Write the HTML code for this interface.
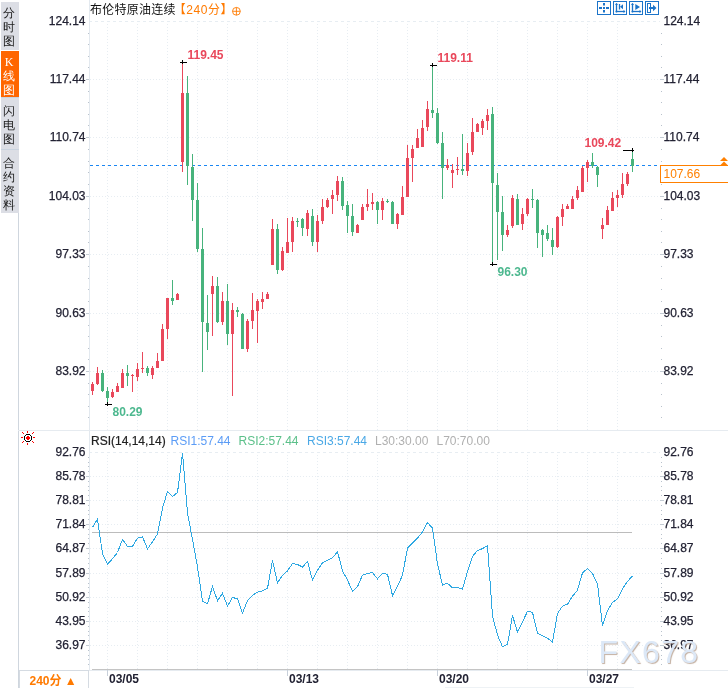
<!DOCTYPE html>
<html><head><meta charset="utf-8"><title>布伦特原油连续 K线图</title>
<style>
html,body{margin:0;padding:0;background:#fff;}
body{width:728px;height:688px;position:relative;overflow:hidden;font-family:"Liberation Sans","Noto Sans CJK SC",sans-serif;}
.tabs{position:absolute;left:1px;top:2px;width:18px;}
.tab{background:#dcdee5;color:#1a1a1a;padding-right:2px;font-size:12px;line-height:14px;text-align:center;font-family:"Liberation Serif","WenQuanYi Zen Hei",serif;box-sizing:border-box;}
.tab.on{background:#ff6600;color:#fff;}
.title{position:absolute;left:90px;top:2px;font-size:12px;line-height:16px;color:#111;white-space:nowrap;letter-spacing:0.25px;font-family:"Liberation Sans","Noto Sans CJK SC",sans-serif;}
.title .o{color:#ff7a00;letter-spacing:0.55px;margin-left:-2px;}
.btm{position:absolute;left:19px;top:670px;width:70px;height:18px;border:1px solid #d5dbe2;border-bottom:none;box-sizing:border-box;color:#ff7a00;font-weight:bold;font-size:12px;line-height:16px;padding-top:2px;padding-left:9.5px;font-family:"Liberation Sans","Noto Sans CJK SC",sans-serif;}
svg{position:absolute;left:0;top:0;}
</style></head><body>
<svg width="728" height="688" viewBox="0 0 728 688">
<g shape-rendering="crispEdges">
<line x1="107.5" y1="21" x2="107.5" y2="430" stroke="#e7edf2" stroke-dasharray="1 2"/>
<line x1="107.5" y1="452" x2="107.5" y2="669" stroke="#e7edf2" stroke-dasharray="1 2"/>
<line x1="137.5" y1="21" x2="137.5" y2="430" stroke="#e7edf2" stroke-dasharray="1 2"/>
<line x1="137.5" y1="452" x2="137.5" y2="669" stroke="#e7edf2" stroke-dasharray="1 2"/>
<line x1="167.5" y1="21" x2="167.5" y2="430" stroke="#e7edf2" stroke-dasharray="1 2"/>
<line x1="167.5" y1="452" x2="167.5" y2="669" stroke="#e7edf2" stroke-dasharray="1 2"/>
<line x1="197.5" y1="21" x2="197.5" y2="430" stroke="#e7edf2" stroke-dasharray="1 2"/>
<line x1="197.5" y1="452" x2="197.5" y2="669" stroke="#e7edf2" stroke-dasharray="1 2"/>
<line x1="227.5" y1="21" x2="227.5" y2="430" stroke="#e7edf2" stroke-dasharray="1 2"/>
<line x1="227.5" y1="452" x2="227.5" y2="669" stroke="#e7edf2" stroke-dasharray="1 2"/>
<line x1="257.5" y1="21" x2="257.5" y2="430" stroke="#e7edf2" stroke-dasharray="1 2"/>
<line x1="257.5" y1="452" x2="257.5" y2="669" stroke="#e7edf2" stroke-dasharray="1 2"/>
<line x1="287.5" y1="21" x2="287.5" y2="430" stroke="#e7edf2" stroke-dasharray="1 2"/>
<line x1="287.5" y1="452" x2="287.5" y2="669" stroke="#e7edf2" stroke-dasharray="1 2"/>
<line x1="317.5" y1="21" x2="317.5" y2="430" stroke="#e7edf2" stroke-dasharray="1 2"/>
<line x1="317.5" y1="452" x2="317.5" y2="669" stroke="#e7edf2" stroke-dasharray="1 2"/>
<line x1="347.5" y1="21" x2="347.5" y2="430" stroke="#e7edf2" stroke-dasharray="1 2"/>
<line x1="347.5" y1="452" x2="347.5" y2="669" stroke="#e7edf2" stroke-dasharray="1 2"/>
<line x1="377.5" y1="21" x2="377.5" y2="430" stroke="#e7edf2" stroke-dasharray="1 2"/>
<line x1="377.5" y1="452" x2="377.5" y2="669" stroke="#e7edf2" stroke-dasharray="1 2"/>
<line x1="407.5" y1="21" x2="407.5" y2="430" stroke="#e7edf2" stroke-dasharray="1 2"/>
<line x1="407.5" y1="452" x2="407.5" y2="669" stroke="#e7edf2" stroke-dasharray="1 2"/>
<line x1="437.5" y1="21" x2="437.5" y2="430" stroke="#e7edf2" stroke-dasharray="1 2"/>
<line x1="437.5" y1="452" x2="437.5" y2="669" stroke="#e7edf2" stroke-dasharray="1 2"/>
<line x1="467.5" y1="21" x2="467.5" y2="430" stroke="#e7edf2" stroke-dasharray="1 2"/>
<line x1="467.5" y1="452" x2="467.5" y2="669" stroke="#e7edf2" stroke-dasharray="1 2"/>
<line x1="497.5" y1="21" x2="497.5" y2="430" stroke="#e7edf2" stroke-dasharray="1 2"/>
<line x1="497.5" y1="452" x2="497.5" y2="669" stroke="#e7edf2" stroke-dasharray="1 2"/>
<line x1="527.5" y1="21" x2="527.5" y2="430" stroke="#e7edf2" stroke-dasharray="1 2"/>
<line x1="527.5" y1="452" x2="527.5" y2="669" stroke="#e7edf2" stroke-dasharray="1 2"/>
<line x1="557.5" y1="21" x2="557.5" y2="430" stroke="#e7edf2" stroke-dasharray="1 2"/>
<line x1="557.5" y1="452" x2="557.5" y2="669" stroke="#e7edf2" stroke-dasharray="1 2"/>
<line x1="587.5" y1="21" x2="587.5" y2="430" stroke="#e7edf2" stroke-dasharray="1 2"/>
<line x1="587.5" y1="452" x2="587.5" y2="669" stroke="#e7edf2" stroke-dasharray="1 2"/>
<line x1="617.5" y1="21" x2="617.5" y2="430" stroke="#e7edf2" stroke-dasharray="1 2"/>
<line x1="617.5" y1="452" x2="617.5" y2="669" stroke="#e7edf2" stroke-dasharray="1 2"/>
<line x1="89" y1="21.5" x2="660" y2="21.5" stroke="#e7edf2" stroke-dasharray="3 3"/>
<line x1="90" y1="79.5" x2="660" y2="79.5" stroke="#e7edf2" stroke-dasharray="1 2"/>
<line x1="90" y1="137.5" x2="660" y2="137.5" stroke="#e7edf2" stroke-dasharray="1 2"/>
<line x1="90" y1="196.5" x2="660" y2="196.5" stroke="#e7edf2" stroke-dasharray="1 2"/>
<line x1="90" y1="254.5" x2="660" y2="254.5" stroke="#e7edf2" stroke-dasharray="1 2"/>
<line x1="90" y1="313.5" x2="660" y2="313.5" stroke="#e7edf2" stroke-dasharray="1 2"/>
<line x1="90" y1="371.5" x2="660" y2="371.5" stroke="#e7edf2" stroke-dasharray="1 2"/>
<line x1="89" y1="452.5" x2="660" y2="452.5" stroke="#e7edf2" stroke-dasharray="3 3"/>
<line x1="90" y1="476.5" x2="660" y2="476.5" stroke="#e7edf2" stroke-dasharray="1 2"/>
<line x1="90" y1="500.5" x2="660" y2="500.5" stroke="#e7edf2" stroke-dasharray="1 2"/>
<line x1="90" y1="524.5" x2="660" y2="524.5" stroke="#e7edf2" stroke-dasharray="1 2"/>
<line x1="90" y1="548.5" x2="660" y2="548.5" stroke="#e7edf2" stroke-dasharray="1 2"/>
<line x1="90" y1="573.5" x2="660" y2="573.5" stroke="#e7edf2" stroke-dasharray="1 2"/>
<line x1="90" y1="597.5" x2="660" y2="597.5" stroke="#e7edf2" stroke-dasharray="1 2"/>
<line x1="90" y1="621.5" x2="660" y2="621.5" stroke="#e7edf2" stroke-dasharray="1 2"/>
<line x1="90" y1="645.5" x2="660" y2="645.5" stroke="#e7edf2" stroke-dasharray="1 2"/>
<line x1="89.5" y1="0" x2="89.5" y2="670" stroke="#e3e9ef"/>
<line x1="18.5" y1="213" x2="18.5" y2="688" stroke="#cfd6de"/>
<line x1="18" y1="430.5" x2="728" y2="430.5" stroke="#e6ebf0"/>
<line x1="89" y1="670.5" x2="728" y2="670.5" stroke="#e6ebf0"/>
<line x1="92" y1="669.5" x2="632" y2="669.5" stroke="#c4c4c4"/>
<line x1="445" y1="687.5" x2="634" y2="687.5" stroke="#eef2f5"/>
<line x1="86" y1="79.5" x2="89" y2="79.5" stroke="#c4ccd4"/>
<line x1="660" y1="79.5" x2="664" y2="79.5" stroke="#c4ccd4"/>
<line x1="86" y1="137.5" x2="89" y2="137.5" stroke="#c4ccd4"/>
<line x1="660" y1="137.5" x2="664" y2="137.5" stroke="#c4ccd4"/>
<line x1="86" y1="196.5" x2="89" y2="196.5" stroke="#c4ccd4"/>
<line x1="660" y1="196.5" x2="664" y2="196.5" stroke="#c4ccd4"/>
<line x1="86" y1="254.5" x2="89" y2="254.5" stroke="#c4ccd4"/>
<line x1="660" y1="254.5" x2="664" y2="254.5" stroke="#c4ccd4"/>
<line x1="86" y1="313.5" x2="89" y2="313.5" stroke="#c4ccd4"/>
<line x1="660" y1="313.5" x2="664" y2="313.5" stroke="#c4ccd4"/>
<line x1="86" y1="371.5" x2="89" y2="371.5" stroke="#c4ccd4"/>
<line x1="660" y1="371.5" x2="664" y2="371.5" stroke="#c4ccd4"/>
<rect x="88" y="33" width="1" height="1" fill="#b9c2cc"/>
<rect x="661" y="33" width="1" height="1" fill="#b9c2cc"/>
<rect x="88" y="44" width="1" height="1" fill="#b9c2cc"/>
<rect x="661" y="44" width="1" height="1" fill="#b9c2cc"/>
<rect x="88" y="56" width="1" height="1" fill="#b9c2cc"/>
<rect x="661" y="56" width="1" height="1" fill="#b9c2cc"/>
<rect x="88" y="67" width="1" height="1" fill="#b9c2cc"/>
<rect x="661" y="67" width="1" height="1" fill="#b9c2cc"/>
<rect x="88" y="91" width="1" height="1" fill="#b9c2cc"/>
<rect x="661" y="91" width="1" height="1" fill="#b9c2cc"/>
<rect x="88" y="102" width="1" height="1" fill="#b9c2cc"/>
<rect x="661" y="102" width="1" height="1" fill="#b9c2cc"/>
<rect x="88" y="114" width="1" height="1" fill="#b9c2cc"/>
<rect x="661" y="114" width="1" height="1" fill="#b9c2cc"/>
<rect x="88" y="125" width="1" height="1" fill="#b9c2cc"/>
<rect x="661" y="125" width="1" height="1" fill="#b9c2cc"/>
<rect x="88" y="149" width="1" height="1" fill="#b9c2cc"/>
<rect x="661" y="149" width="1" height="1" fill="#b9c2cc"/>
<rect x="88" y="161" width="1" height="1" fill="#b9c2cc"/>
<rect x="661" y="161" width="1" height="1" fill="#b9c2cc"/>
<rect x="88" y="172" width="1" height="1" fill="#b9c2cc"/>
<rect x="661" y="172" width="1" height="1" fill="#b9c2cc"/>
<rect x="88" y="184" width="1" height="1" fill="#b9c2cc"/>
<rect x="661" y="184" width="1" height="1" fill="#b9c2cc"/>
<rect x="88" y="208" width="1" height="1" fill="#b9c2cc"/>
<rect x="661" y="208" width="1" height="1" fill="#b9c2cc"/>
<rect x="88" y="219" width="1" height="1" fill="#b9c2cc"/>
<rect x="661" y="219" width="1" height="1" fill="#b9c2cc"/>
<rect x="88" y="231" width="1" height="1" fill="#b9c2cc"/>
<rect x="661" y="231" width="1" height="1" fill="#b9c2cc"/>
<rect x="88" y="242" width="1" height="1" fill="#b9c2cc"/>
<rect x="661" y="242" width="1" height="1" fill="#b9c2cc"/>
<rect x="88" y="266" width="1" height="1" fill="#b9c2cc"/>
<rect x="661" y="266" width="1" height="1" fill="#b9c2cc"/>
<rect x="88" y="278" width="1" height="1" fill="#b9c2cc"/>
<rect x="661" y="278" width="1" height="1" fill="#b9c2cc"/>
<rect x="88" y="289" width="1" height="1" fill="#b9c2cc"/>
<rect x="661" y="289" width="1" height="1" fill="#b9c2cc"/>
<rect x="88" y="301" width="1" height="1" fill="#b9c2cc"/>
<rect x="661" y="301" width="1" height="1" fill="#b9c2cc"/>
<rect x="88" y="325" width="1" height="1" fill="#b9c2cc"/>
<rect x="661" y="325" width="1" height="1" fill="#b9c2cc"/>
<rect x="88" y="336" width="1" height="1" fill="#b9c2cc"/>
<rect x="661" y="336" width="1" height="1" fill="#b9c2cc"/>
<rect x="88" y="348" width="1" height="1" fill="#b9c2cc"/>
<rect x="661" y="348" width="1" height="1" fill="#b9c2cc"/>
<rect x="88" y="359" width="1" height="1" fill="#b9c2cc"/>
<rect x="661" y="359" width="1" height="1" fill="#b9c2cc"/>
<rect x="88" y="383" width="1" height="1" fill="#b9c2cc"/>
<rect x="661" y="383" width="1" height="1" fill="#b9c2cc"/>
<rect x="88" y="394" width="1" height="1" fill="#b9c2cc"/>
<rect x="661" y="394" width="1" height="1" fill="#b9c2cc"/>
<rect x="88" y="406" width="1" height="1" fill="#b9c2cc"/>
<rect x="661" y="406" width="1" height="1" fill="#b9c2cc"/>
<rect x="88" y="417" width="1" height="1" fill="#b9c2cc"/>
<rect x="661" y="417" width="1" height="1" fill="#b9c2cc"/>
<line x1="86" y1="476.5" x2="89" y2="476.5" stroke="#c4ccd4"/>
<line x1="660" y1="476.5" x2="664" y2="476.5" stroke="#c4ccd4"/>
<line x1="86" y1="500.5" x2="89" y2="500.5" stroke="#c4ccd4"/>
<line x1="660" y1="500.5" x2="664" y2="500.5" stroke="#c4ccd4"/>
<line x1="86" y1="524.5" x2="89" y2="524.5" stroke="#c4ccd4"/>
<line x1="660" y1="524.5" x2="664" y2="524.5" stroke="#c4ccd4"/>
<line x1="86" y1="548.5" x2="89" y2="548.5" stroke="#c4ccd4"/>
<line x1="660" y1="548.5" x2="664" y2="548.5" stroke="#c4ccd4"/>
<line x1="86" y1="573.5" x2="89" y2="573.5" stroke="#c4ccd4"/>
<line x1="660" y1="573.5" x2="664" y2="573.5" stroke="#c4ccd4"/>
<line x1="86" y1="597.5" x2="89" y2="597.5" stroke="#c4ccd4"/>
<line x1="660" y1="597.5" x2="664" y2="597.5" stroke="#c4ccd4"/>
<line x1="86" y1="621.5" x2="89" y2="621.5" stroke="#c4ccd4"/>
<line x1="660" y1="621.5" x2="664" y2="621.5" stroke="#c4ccd4"/>
<line x1="86" y1="645.5" x2="89" y2="645.5" stroke="#c4ccd4"/>
<line x1="660" y1="645.5" x2="664" y2="645.5" stroke="#c4ccd4"/>
<rect x="88" y="457" width="1" height="1" fill="#b9c2cc"/>
<rect x="661" y="457" width="1" height="1" fill="#b9c2cc"/>
<rect x="88" y="462" width="1" height="1" fill="#b9c2cc"/>
<rect x="661" y="462" width="1" height="1" fill="#b9c2cc"/>
<rect x="88" y="466" width="1" height="1" fill="#b9c2cc"/>
<rect x="661" y="466" width="1" height="1" fill="#b9c2cc"/>
<rect x="88" y="471" width="1" height="1" fill="#b9c2cc"/>
<rect x="661" y="471" width="1" height="1" fill="#b9c2cc"/>
<rect x="88" y="481" width="1" height="1" fill="#b9c2cc"/>
<rect x="661" y="481" width="1" height="1" fill="#b9c2cc"/>
<rect x="88" y="486" width="1" height="1" fill="#b9c2cc"/>
<rect x="661" y="486" width="1" height="1" fill="#b9c2cc"/>
<rect x="88" y="490" width="1" height="1" fill="#b9c2cc"/>
<rect x="661" y="490" width="1" height="1" fill="#b9c2cc"/>
<rect x="88" y="495" width="1" height="1" fill="#b9c2cc"/>
<rect x="661" y="495" width="1" height="1" fill="#b9c2cc"/>
<rect x="88" y="505" width="1" height="1" fill="#b9c2cc"/>
<rect x="661" y="505" width="1" height="1" fill="#b9c2cc"/>
<rect x="88" y="510" width="1" height="1" fill="#b9c2cc"/>
<rect x="661" y="510" width="1" height="1" fill="#b9c2cc"/>
<rect x="88" y="514" width="1" height="1" fill="#b9c2cc"/>
<rect x="661" y="514" width="1" height="1" fill="#b9c2cc"/>
<rect x="88" y="519" width="1" height="1" fill="#b9c2cc"/>
<rect x="661" y="519" width="1" height="1" fill="#b9c2cc"/>
<rect x="88" y="529" width="1" height="1" fill="#b9c2cc"/>
<rect x="661" y="529" width="1" height="1" fill="#b9c2cc"/>
<rect x="88" y="534" width="1" height="1" fill="#b9c2cc"/>
<rect x="661" y="534" width="1" height="1" fill="#b9c2cc"/>
<rect x="88" y="538" width="1" height="1" fill="#b9c2cc"/>
<rect x="661" y="538" width="1" height="1" fill="#b9c2cc"/>
<rect x="88" y="543" width="1" height="1" fill="#b9c2cc"/>
<rect x="661" y="543" width="1" height="1" fill="#b9c2cc"/>
<rect x="88" y="553" width="1" height="1" fill="#b9c2cc"/>
<rect x="661" y="553" width="1" height="1" fill="#b9c2cc"/>
<rect x="88" y="558" width="1" height="1" fill="#b9c2cc"/>
<rect x="661" y="558" width="1" height="1" fill="#b9c2cc"/>
<rect x="88" y="563" width="1" height="1" fill="#b9c2cc"/>
<rect x="661" y="563" width="1" height="1" fill="#b9c2cc"/>
<rect x="88" y="568" width="1" height="1" fill="#b9c2cc"/>
<rect x="661" y="568" width="1" height="1" fill="#b9c2cc"/>
<rect x="88" y="578" width="1" height="1" fill="#b9c2cc"/>
<rect x="661" y="578" width="1" height="1" fill="#b9c2cc"/>
<rect x="88" y="583" width="1" height="1" fill="#b9c2cc"/>
<rect x="661" y="583" width="1" height="1" fill="#b9c2cc"/>
<rect x="88" y="587" width="1" height="1" fill="#b9c2cc"/>
<rect x="661" y="587" width="1" height="1" fill="#b9c2cc"/>
<rect x="88" y="592" width="1" height="1" fill="#b9c2cc"/>
<rect x="661" y="592" width="1" height="1" fill="#b9c2cc"/>
<rect x="88" y="602" width="1" height="1" fill="#b9c2cc"/>
<rect x="661" y="602" width="1" height="1" fill="#b9c2cc"/>
<rect x="88" y="607" width="1" height="1" fill="#b9c2cc"/>
<rect x="661" y="607" width="1" height="1" fill="#b9c2cc"/>
<rect x="88" y="611" width="1" height="1" fill="#b9c2cc"/>
<rect x="661" y="611" width="1" height="1" fill="#b9c2cc"/>
<rect x="88" y="616" width="1" height="1" fill="#b9c2cc"/>
<rect x="661" y="616" width="1" height="1" fill="#b9c2cc"/>
<rect x="88" y="626" width="1" height="1" fill="#b9c2cc"/>
<rect x="661" y="626" width="1" height="1" fill="#b9c2cc"/>
<rect x="88" y="631" width="1" height="1" fill="#b9c2cc"/>
<rect x="661" y="631" width="1" height="1" fill="#b9c2cc"/>
<rect x="88" y="635" width="1" height="1" fill="#b9c2cc"/>
<rect x="661" y="635" width="1" height="1" fill="#b9c2cc"/>
<rect x="88" y="640" width="1" height="1" fill="#b9c2cc"/>
<rect x="661" y="640" width="1" height="1" fill="#b9c2cc"/>
<rect x="88" y="650" width="1" height="1" fill="#b9c2cc"/>
<rect x="661" y="650" width="1" height="1" fill="#b9c2cc"/>
<rect x="88" y="655" width="1" height="1" fill="#b9c2cc"/>
<rect x="661" y="655" width="1" height="1" fill="#b9c2cc"/>
<rect x="88" y="659" width="1" height="1" fill="#b9c2cc"/>
<rect x="661" y="659" width="1" height="1" fill="#b9c2cc"/>
<rect x="88" y="664" width="1" height="1" fill="#b9c2cc"/>
<rect x="661" y="664" width="1" height="1" fill="#b9c2cc"/>
</g>
<line x1="90" y1="165.5" x2="660" y2="165.5" stroke="#1a86f2" stroke-dasharray="3 3" shape-rendering="crispEdges"/>
<g shape-rendering="crispEdges">
<rect x="92" y="382" width="1" height="13" fill="#e9485b"/>
<rect x="91" y="384" width="3" height="7" fill="#e9485b"/>
<rect x="97" y="367" width="1" height="18" fill="#e9485b"/>
<rect x="96" y="373" width="3" height="11" fill="#e9485b"/>
<rect x="102" y="370" width="1" height="22" fill="#47b37c"/>
<rect x="101" y="373" width="3" height="18" fill="#47b37c"/>
<rect x="107" y="387" width="1" height="15" fill="#47b37c"/>
<rect x="106" y="391" width="3" height="7" fill="#47b37c"/>
<rect x="112" y="389" width="1" height="9" fill="#e9485b"/>
<rect x="111" y="392" width="3" height="5" fill="#e9485b"/>
<rect x="117" y="383" width="1" height="9" fill="#e9485b"/>
<rect x="116" y="386" width="3" height="6" fill="#e9485b"/>
<rect x="122" y="369" width="1" height="19" fill="#e9485b"/>
<rect x="121" y="373" width="3" height="15" fill="#e9485b"/>
<rect x="127" y="365" width="1" height="21" fill="#47b37c"/>
<rect x="126" y="373" width="3" height="3" fill="#47b37c"/>
<rect x="132" y="374" width="1" height="18" fill="#e9485b"/>
<rect x="131" y="375" width="3" height="1" fill="#e9485b"/>
<rect x="137" y="363" width="1" height="18" fill="#e9485b"/>
<rect x="136" y="369" width="3" height="8" fill="#e9485b"/>
<rect x="142" y="352" width="1" height="21" fill="#e9485b"/>
<rect x="141" y="368" width="3" height="1" fill="#e9485b"/>
<rect x="147" y="366" width="1" height="10" fill="#47b37c"/>
<rect x="146" y="368" width="3" height="5" fill="#47b37c"/>
<rect x="152" y="366" width="1" height="13" fill="#e9485b"/>
<rect x="151" y="368" width="3" height="7" fill="#e9485b"/>
<rect x="157" y="353" width="1" height="15" fill="#e9485b"/>
<rect x="156" y="361" width="3" height="7" fill="#e9485b"/>
<rect x="162" y="324" width="1" height="37" fill="#e9485b"/>
<rect x="161" y="329" width="3" height="32" fill="#e9485b"/>
<rect x="167" y="298" width="1" height="41" fill="#e9485b"/>
<rect x="166" y="298" width="3" height="31" fill="#e9485b"/>
<rect x="172" y="280" width="1" height="25" fill="#47b37c"/>
<rect x="171" y="298" width="3" height="3" fill="#47b37c"/>
<rect x="177" y="293" width="1" height="7" fill="#e9485b"/>
<rect x="176" y="294" width="3" height="6" fill="#e9485b"/>
<rect x="182" y="61" width="1" height="111" fill="#e9485b"/>
<rect x="181" y="93" width="3" height="69" fill="#e9485b"/>
<rect x="187" y="76" width="1" height="109" fill="#47b37c"/>
<rect x="186" y="93" width="3" height="73" fill="#47b37c"/>
<rect x="192" y="154" width="1" height="67" fill="#47b37c"/>
<rect x="191" y="167" width="3" height="33" fill="#47b37c"/>
<rect x="197" y="183" width="1" height="69" fill="#47b37c"/>
<rect x="196" y="200" width="3" height="49" fill="#47b37c"/>
<rect x="202" y="228" width="1" height="144" fill="#47b37c"/>
<rect x="201" y="249" width="3" height="73" fill="#47b37c"/>
<rect x="207" y="295" width="1" height="55" fill="#47b37c"/>
<rect x="206" y="323" width="3" height="9" fill="#47b37c"/>
<rect x="212" y="276" width="1" height="60" fill="#e9485b"/>
<rect x="211" y="286" width="3" height="8" fill="#e9485b"/>
<rect x="217" y="277" width="1" height="46" fill="#47b37c"/>
<rect x="216" y="286" width="3" height="36" fill="#47b37c"/>
<rect x="222" y="292" width="1" height="33" fill="#e9485b"/>
<rect x="221" y="301" width="3" height="21" fill="#e9485b"/>
<rect x="227" y="284" width="1" height="61" fill="#47b37c"/>
<rect x="226" y="301" width="3" height="33" fill="#47b37c"/>
<rect x="232" y="303" width="1" height="93" fill="#e9485b"/>
<rect x="231" y="310" width="3" height="24" fill="#e9485b"/>
<rect x="237" y="307" width="1" height="10" fill="#47b37c"/>
<rect x="236" y="310" width="3" height="2" fill="#47b37c"/>
<rect x="242" y="313" width="1" height="36" fill="#47b37c"/>
<rect x="241" y="314" width="3" height="35" fill="#47b37c"/>
<rect x="247" y="319" width="1" height="33" fill="#e9485b"/>
<rect x="246" y="321" width="3" height="28" fill="#e9485b"/>
<rect x="252" y="293" width="1" height="36" fill="#e9485b"/>
<rect x="251" y="310" width="3" height="11" fill="#e9485b"/>
<rect x="257" y="299" width="1" height="44" fill="#e9485b"/>
<rect x="256" y="301" width="3" height="10" fill="#e9485b"/>
<rect x="262" y="292" width="1" height="17" fill="#e9485b"/>
<rect x="261" y="299" width="3" height="3" fill="#e9485b"/>
<rect x="267" y="292" width="1" height="7" fill="#e9485b"/>
<rect x="266" y="294" width="3" height="5" fill="#e9485b"/>
<rect x="272" y="219" width="1" height="46" fill="#e9485b"/>
<rect x="271" y="229" width="3" height="36" fill="#e9485b"/>
<rect x="277" y="224" width="1" height="50" fill="#47b37c"/>
<rect x="276" y="229" width="3" height="41" fill="#47b37c"/>
<rect x="282" y="247" width="1" height="24" fill="#e9485b"/>
<rect x="281" y="251" width="3" height="19" fill="#e9485b"/>
<rect x="287" y="218" width="1" height="35" fill="#e9485b"/>
<rect x="286" y="242" width="3" height="11" fill="#e9485b"/>
<rect x="292" y="217" width="1" height="35" fill="#e9485b"/>
<rect x="291" y="221" width="3" height="21" fill="#e9485b"/>
<rect x="297" y="218" width="1" height="9" fill="#47b37c"/>
<rect x="296" y="221" width="3" height="1" fill="#47b37c"/>
<rect x="302" y="218" width="1" height="18" fill="#47b37c"/>
<rect x="301" y="219" width="3" height="9" fill="#47b37c"/>
<rect x="307" y="210" width="1" height="26" fill="#e9485b"/>
<rect x="306" y="213" width="3" height="16" fill="#e9485b"/>
<rect x="312" y="209" width="1" height="37" fill="#47b37c"/>
<rect x="311" y="216" width="3" height="26" fill="#47b37c"/>
<rect x="317" y="215" width="1" height="37" fill="#e9485b"/>
<rect x="316" y="221" width="3" height="21" fill="#e9485b"/>
<rect x="322" y="199" width="1" height="25" fill="#e9485b"/>
<rect x="321" y="207" width="3" height="14" fill="#e9485b"/>
<rect x="327" y="198" width="1" height="10" fill="#e9485b"/>
<rect x="326" y="200" width="3" height="7" fill="#e9485b"/>
<rect x="332" y="190" width="1" height="24" fill="#e9485b"/>
<rect x="331" y="195" width="3" height="4" fill="#e9485b"/>
<rect x="337" y="176" width="1" height="25" fill="#e9485b"/>
<rect x="336" y="181" width="3" height="14" fill="#e9485b"/>
<rect x="342" y="177" width="1" height="33" fill="#47b37c"/>
<rect x="341" y="181" width="3" height="25" fill="#47b37c"/>
<rect x="347" y="201" width="1" height="32" fill="#47b37c"/>
<rect x="346" y="205" width="3" height="11" fill="#47b37c"/>
<rect x="352" y="204" width="1" height="32" fill="#47b37c"/>
<rect x="351" y="216" width="3" height="16" fill="#47b37c"/>
<rect x="357" y="224" width="1" height="9" fill="#e9485b"/>
<rect x="356" y="225" width="3" height="8" fill="#e9485b"/>
<rect x="362" y="204" width="1" height="16" fill="#e9485b"/>
<rect x="361" y="207" width="3" height="13" fill="#e9485b"/>
<rect x="367" y="189" width="1" height="22" fill="#e9485b"/>
<rect x="366" y="204" width="3" height="3" fill="#e9485b"/>
<rect x="372" y="193" width="1" height="17" fill="#e9485b"/>
<rect x="371" y="202" width="3" height="2" fill="#e9485b"/>
<rect x="377" y="201" width="1" height="23" fill="#47b37c"/>
<rect x="376" y="202" width="3" height="8" fill="#47b37c"/>
<rect x="382" y="198" width="1" height="22" fill="#e9485b"/>
<rect x="381" y="201" width="3" height="9" fill="#e9485b"/>
<rect x="387" y="199" width="1" height="4" fill="#47b37c"/>
<rect x="386" y="201" width="3" height="1" fill="#47b37c"/>
<rect x="392" y="201" width="1" height="23" fill="#47b37c"/>
<rect x="391" y="202" width="3" height="22" fill="#47b37c"/>
<rect x="397" y="213" width="1" height="16" fill="#e9485b"/>
<rect x="396" y="214" width="3" height="10" fill="#e9485b"/>
<rect x="402" y="186" width="1" height="29" fill="#e9485b"/>
<rect x="401" y="197" width="3" height="18" fill="#e9485b"/>
<rect x="407" y="145" width="1" height="52" fill="#e9485b"/>
<rect x="406" y="158" width="3" height="39" fill="#e9485b"/>
<rect x="412" y="145" width="1" height="37" fill="#e9485b"/>
<rect x="411" y="149" width="3" height="9" fill="#e9485b"/>
<rect x="417" y="129" width="1" height="19" fill="#e9485b"/>
<rect x="416" y="138" width="3" height="10" fill="#e9485b"/>
<rect x="422" y="120" width="1" height="27" fill="#e9485b"/>
<rect x="421" y="128" width="3" height="19" fill="#e9485b"/>
<rect x="427" y="101" width="1" height="30" fill="#e9485b"/>
<rect x="426" y="109" width="3" height="18" fill="#e9485b"/>
<rect x="432" y="65" width="1" height="53" fill="#47b37c"/>
<rect x="431" y="110" width="3" height="3" fill="#47b37c"/>
<rect x="437" y="108" width="1" height="36" fill="#47b37c"/>
<rect x="436" y="113" width="3" height="30" fill="#47b37c"/>
<rect x="442" y="132" width="1" height="67" fill="#47b37c"/>
<rect x="441" y="143" width="3" height="25" fill="#47b37c"/>
<rect x="447" y="159" width="1" height="11" fill="#e9485b"/>
<rect x="446" y="165" width="3" height="3" fill="#e9485b"/>
<rect x="452" y="164" width="1" height="24" fill="#e9485b"/>
<rect x="451" y="170" width="3" height="3" fill="#e9485b"/>
<rect x="457" y="157" width="1" height="18" fill="#e9485b"/>
<rect x="456" y="169" width="3" height="1" fill="#e9485b"/>
<rect x="462" y="134" width="1" height="41" fill="#47b37c"/>
<rect x="461" y="169" width="3" height="2" fill="#47b37c"/>
<rect x="467" y="143" width="1" height="33" fill="#e9485b"/>
<rect x="466" y="153" width="3" height="18" fill="#e9485b"/>
<rect x="472" y="118" width="1" height="37" fill="#e9485b"/>
<rect x="471" y="132" width="3" height="20" fill="#e9485b"/>
<rect x="477" y="123" width="1" height="9" fill="#e9485b"/>
<rect x="476" y="124" width="3" height="8" fill="#e9485b"/>
<rect x="482" y="119" width="1" height="16" fill="#e9485b"/>
<rect x="481" y="121" width="3" height="7" fill="#e9485b"/>
<rect x="487" y="109" width="1" height="21" fill="#e9485b"/>
<rect x="486" y="115" width="3" height="6" fill="#e9485b"/>
<rect x="492" y="107" width="1" height="157" fill="#47b37c"/>
<rect x="491" y="114" width="3" height="69" fill="#47b37c"/>
<rect x="497" y="173" width="1" height="87" fill="#47b37c"/>
<rect x="496" y="185" width="3" height="27" fill="#47b37c"/>
<rect x="502" y="196" width="1" height="55" fill="#47b37c"/>
<rect x="501" y="212" width="3" height="23" fill="#47b37c"/>
<rect x="507" y="225" width="1" height="12" fill="#e9485b"/>
<rect x="506" y="230" width="3" height="5" fill="#e9485b"/>
<rect x="512" y="195" width="1" height="33" fill="#e9485b"/>
<rect x="511" y="198" width="3" height="28" fill="#e9485b"/>
<rect x="517" y="194" width="1" height="31" fill="#47b37c"/>
<rect x="516" y="199" width="3" height="26" fill="#47b37c"/>
<rect x="522" y="208" width="1" height="22" fill="#e9485b"/>
<rect x="521" y="214" width="3" height="10" fill="#e9485b"/>
<rect x="527" y="198" width="1" height="18" fill="#e9485b"/>
<rect x="526" y="199" width="3" height="15" fill="#e9485b"/>
<rect x="532" y="189" width="1" height="19" fill="#47b37c"/>
<rect x="531" y="199" width="3" height="1" fill="#47b37c"/>
<rect x="537" y="199" width="1" height="49" fill="#47b37c"/>
<rect x="536" y="200" width="3" height="33" fill="#47b37c"/>
<rect x="542" y="229" width="1" height="28" fill="#47b37c"/>
<rect x="541" y="230" width="3" height="5" fill="#47b37c"/>
<rect x="547" y="225" width="1" height="16" fill="#47b37c"/>
<rect x="546" y="233" width="3" height="6" fill="#47b37c"/>
<rect x="552" y="228" width="1" height="27" fill="#47b37c"/>
<rect x="551" y="240" width="3" height="7" fill="#47b37c"/>
<rect x="557" y="216" width="1" height="32" fill="#e9485b"/>
<rect x="556" y="217" width="3" height="30" fill="#e9485b"/>
<rect x="562" y="204" width="1" height="22" fill="#e9485b"/>
<rect x="561" y="209" width="3" height="8" fill="#e9485b"/>
<rect x="567" y="204" width="1" height="5" fill="#e9485b"/>
<rect x="566" y="206" width="3" height="3" fill="#e9485b"/>
<rect x="572" y="196" width="1" height="13" fill="#e9485b"/>
<rect x="571" y="199" width="3" height="10" fill="#e9485b"/>
<rect x="577" y="186" width="1" height="14" fill="#e9485b"/>
<rect x="576" y="190" width="3" height="8" fill="#e9485b"/>
<rect x="582" y="166" width="1" height="26" fill="#e9485b"/>
<rect x="581" y="168" width="3" height="24" fill="#e9485b"/>
<rect x="587" y="160" width="1" height="22" fill="#e9485b"/>
<rect x="586" y="162" width="3" height="6" fill="#e9485b"/>
<rect x="592" y="153" width="1" height="15" fill="#47b37c"/>
<rect x="591" y="162" width="3" height="4" fill="#47b37c"/>
<rect x="597" y="166" width="1" height="21" fill="#47b37c"/>
<rect x="596" y="167" width="3" height="8" fill="#47b37c"/>
<rect x="602" y="218" width="1" height="21" fill="#e9485b"/>
<rect x="601" y="225" width="3" height="4" fill="#e9485b"/>
<rect x="607" y="206" width="1" height="19" fill="#e9485b"/>
<rect x="606" y="210" width="3" height="15" fill="#e9485b"/>
<rect x="612" y="192" width="1" height="19" fill="#e9485b"/>
<rect x="611" y="198" width="3" height="13" fill="#e9485b"/>
<rect x="617" y="190" width="1" height="17" fill="#e9485b"/>
<rect x="616" y="195" width="3" height="3" fill="#e9485b"/>
<rect x="622" y="173" width="1" height="25" fill="#e9485b"/>
<rect x="621" y="184" width="3" height="11" fill="#e9485b"/>
<rect x="627" y="172" width="1" height="14" fill="#e9485b"/>
<rect x="626" y="174" width="3" height="10" fill="#e9485b"/>
<rect x="632" y="150" width="1" height="22" fill="#47b37c"/>
<rect x="631" y="159" width="3" height="7" fill="#47b37c"/>
</g>
<g shape-rendering="crispEdges">
<line x1="180" y1="62.5" x2="187" y2="62.5" stroke="#000" stroke-width="1"/><line x1="182.5" y1="60" x2="182.5" y2="64" stroke="#000" stroke-width="1"/>
<line x1="430" y1="65.5" x2="437" y2="65.5" stroke="#000" stroke-width="1"/><line x1="432.5" y1="63" x2="432.5" y2="67" stroke="#000" stroke-width="1"/>
<line x1="105" y1="404.5" x2="112" y2="404.5" stroke="#000" stroke-width="1"/><line x1="107.5" y1="402" x2="107.5" y2="406" stroke="#000" stroke-width="1"/>
<line x1="490" y1="264.5" x2="497" y2="264.5" stroke="#000" stroke-width="1"/><line x1="492.5" y1="262" x2="492.5" y2="266" stroke="#000" stroke-width="1"/>
<line x1="623" y1="150.5" x2="634" y2="150.5" stroke="#000" stroke-width="1"/><line x1="632.5" y1="148" x2="632.5" y2="152" stroke="#000" stroke-width="1"/>
</g>
<g font-family="'Liberation Sans', Arial, sans-serif" font-size="12" font-weight="bold">
<text x="187.5" y="58.8" fill="#e9485b">119.45</text>
<text x="437.5" y="61.8" fill="#e9485b">119.11</text>
<text x="584.5" y="147" fill="#e9485b">109.42</text>
<text x="112.5" y="415.5" fill="#4db88f">80.29</text>
<text x="497.5" y="275.5" fill="#4db88f">96.30</text>
</g>
<line x1="92" y1="532.5" x2="632" y2="532.5" stroke="#bcbcbc" shape-rendering="crispEdges"/>
<polyline points="92.5,527.3 97.5,519.2 102.5,553.8 107.5,564.2 112.5,558.7 117.5,552.5 122.5,539.4 127.5,546.4 132.5,546.4 137.5,538.2 142.5,537.0 147.5,548.8 152.5,541.9 157.5,534.0 162.5,508.1 167.5,491.5 172.5,496.5 177.5,492.5 182.5,453.1 187.5,513.0 192.5,539.5 197.5,567.0 202.5,601.4 207.5,603.7 212.5,586.4 217.5,600.7 222.5,593.3 227.5,606.2 232.5,597.5 237.5,598.8 242.5,613.1 247.5,600.7 252.5,595.3 257.5,592.1 262.5,590.8 267.5,588.4 272.5,560.5 277.5,582.9 282.5,575.3 287.5,570.9 292.5,563.5 297.5,564.5 302.5,567.0 307.5,561.5 312.5,580.1 317.5,570.2 322.5,562.8 327.5,560.3 332.5,557.8 337.5,551.7 342.5,570.9 347.5,580.1 352.5,591.2 357.5,586.7 362.5,575.1 367.5,573.4 372.5,572.7 377.5,578.8 382.5,573.4 387.5,574.4 392.5,595.6 397.5,586.3 402.5,575.1 407.5,548.0 412.5,543.0 417.5,538.1 422.5,531.9 427.5,522.5 432.5,528.2 437.5,564.0 442.5,585.0 447.5,583.3 452.5,588.0 457.5,587.5 462.5,589.2 467.5,571.4 472.5,556.3 477.5,550.5 482.5,548.6 487.5,545.6 492.5,616.0 497.5,635.0 502.5,646.9 507.5,644.4 512.5,615.5 517.5,632.1 522.5,622.2 527.5,611.1 532.5,612.3 537.5,633.3 542.5,635.8 547.5,638.3 552.5,642.0 557.5,613.5 562.5,606.1 567.5,604.2 572.5,596.3 577.5,590.1 582.5,572.8 587.5,568.6 592.5,573.5 597.5,583.9 602.5,625.9 607.5,610.6 612.5,602.4 617.5,598.7 622.5,588.8 627.5,581.4 632.5,576.0" fill="none" stroke="#2ea8e2" stroke-width="1" shape-rendering="crispEdges"/>
<g font-family="'Liberation Sans', Arial, sans-serif" font-size="12" fill="#222233" stroke="#222233" stroke-width="0.25">
<text x="85.5" y="25.1" text-anchor="end">124.14</text>
<text x="663.5" y="25.1">124.14</text>
<text x="85.5" y="83.1" text-anchor="end">117.44</text>
<text x="663.5" y="83.1">117.44</text>
<text x="85.5" y="141.1" text-anchor="end">110.74</text>
<text x="663.5" y="141.1">110.74</text>
<text x="85.5" y="200.1" text-anchor="end">104.03</text>
<text x="663.5" y="200.1">104.03</text>
<text x="85.5" y="258.1" text-anchor="end">97.33</text>
<text x="663.5" y="258.1">97.33</text>
<text x="85.5" y="317.1" text-anchor="end">90.63</text>
<text x="663.5" y="317.1">90.63</text>
<text x="85.5" y="375.1" text-anchor="end">83.92</text>
<text x="663.5" y="375.1">83.92</text>
<text x="85.5" y="456.1" text-anchor="end">92.76</text>
<text x="663.5" y="456.1">92.76</text>
<text x="85.5" y="480.1" text-anchor="end">85.78</text>
<text x="663.5" y="480.1">85.78</text>
<text x="85.5" y="504.1" text-anchor="end">78.81</text>
<text x="663.5" y="504.1">78.81</text>
<text x="85.5" y="528.1" text-anchor="end">71.84</text>
<text x="663.5" y="528.1">71.84</text>
<text x="85.5" y="552.1" text-anchor="end">64.87</text>
<text x="663.5" y="552.1">64.87</text>
<text x="85.5" y="577.1" text-anchor="end">57.89</text>
<text x="663.5" y="577.1">57.89</text>
<text x="85.5" y="601.1" text-anchor="end">50.92</text>
<text x="663.5" y="601.1">50.92</text>
<text x="85.5" y="625.1" text-anchor="end">43.95</text>
<text x="663.5" y="625.1">43.95</text>
<text x="85.5" y="649.1" text-anchor="end">36.97</text>
<text x="663.5" y="649.1">36.97</text>
</g>
<g font-family="'Liberation Sans', Arial, sans-serif" font-size="12" font-weight="bold" fill="#222233">
<line x1="107.5" y1="670" x2="107.5" y2="676" stroke="#c8d0da" shape-rendering="crispEdges"/>
<text x="109" y="682.7">03/05</text>
<line x1="287.5" y1="670" x2="287.5" y2="676" stroke="#c8d0da" shape-rendering="crispEdges"/>
<text x="289" y="682.7">03/13</text>
<line x1="437.5" y1="670" x2="437.5" y2="676" stroke="#c8d0da" shape-rendering="crispEdges"/>
<text x="439" y="682.7">03/20</text>
<line x1="587.5" y1="670" x2="587.5" y2="676" stroke="#c8d0da" shape-rendering="crispEdges"/>
<text x="589" y="682.7">03/27</text>
</g>
<rect x="660.5" y="165.5" width="80" height="17" fill="#fff" stroke="#ff8000" shape-rendering="crispEdges"/>
<text x="663.5" y="177.8" font-family="'Liberation Sans', Arial, sans-serif" font-size="12" fill="#ff8000">107.66</text>
<path d="M720,161 L724,157 L728,161 Z M720,165.5 L724,161.5 L728,165.5 Z" fill="#ff8000"/>
<g font-family="'Liberation Sans', Arial, sans-serif" font-size="12" stroke-width="0.2">
<text x="91" y="444.5" fill="#222" stroke="#222">RSI(14,14,14)</text>
<text x="170.5" y="444.5" fill="#5b9cf6">RSI1:57.44</text>
<text x="238.5" y="444.5" fill="#5cc08a">RSI2:57.44</text>
<text x="307" y="444.5" fill="#4aa8e6">RSI3:57.44</text>
<text x="375" y="444.5" fill="#b0b0b0">L30:30.00</text>
<text x="436.5" y="444.5" fill="#b0b0b0">L70:70.00</text>
</g>
<text x="598.6" y="662.6" font-family="'Liberation Sans', Arial, sans-serif" font-size="32" fill="#dce8f7" letter-spacing="1.3" style="text-shadow:1px 1px 0.8px rgba(150,115,90,0.55)">FX678</text>
<g shape-rendering="crispEdges"><rect x="26" y="434" width="4" height="1" fill="#000"/><rect x="26" y="441" width="4" height="1" fill="#000"/><rect x="24" y="436" width="1" height="4" fill="#000"/><rect x="31" y="436" width="1" height="4" fill="#000"/><rect x="25" y="435" width="1" height="1" fill="#000"/><rect x="30" y="435" width="1" height="1" fill="#000"/><rect x="25" y="440" width="1" height="1" fill="#000"/><rect x="30" y="440" width="1" height="1" fill="#000"/><rect x="27" y="436" width="2" height="1" fill="#ff0000"/><rect x="26" y="437" width="4" height="2" fill="#ff0000"/><rect x="27" y="439" width="2" height="1" fill="#ff0000"/><rect x="27" y="431" width="1" height="2" fill="#ff0000"/><rect x="27" y="443" width="1" height="2" fill="#ff0000"/><rect x="21" y="437" width="2" height="1" fill="#ff0000"/><rect x="33" y="437" width="2" height="1" fill="#ff0000"/><rect x="22" y="432" width="1" height="1" fill="#ff0000"/><rect x="23" y="433" width="1" height="1" fill="#ff0000"/><rect x="33" y="432" width="1" height="1" fill="#ff0000"/><rect x="32" y="433" width="1" height="1" fill="#ff0000"/><rect x="23" y="441" width="1" height="1" fill="#ff0000"/><rect x="22" y="442" width="1" height="1" fill="#ff0000"/><rect x="32" y="441" width="1" height="1" fill="#ff0000"/><rect x="33" y="442" width="1" height="1" fill="#ff0000"/></g>
</svg>
<div class="tabs">
<div class="tab" style="height:48px;padding-top:4px;">分<br>时<br>图</div>
<div class="tab on" style="height:46px;margin-top:1px;padding-top:4px;">K<br>线<br>图</div>
<div class="tab" style="height:52px;padding-top:6px;border-top:1px solid #c9d3df;">闪<br>电<br>图</div>
<div class="tab" style="height:64px;padding-top:6px;border-top:1px solid #c9d3df;">合<br>约<br>资<br>料</div>
</div>
<div class="title">布伦特原油连续<span class="o">【240分】</span></div>
<svg width="12" height="12" style="left:231px;top:5px;position:absolute" viewBox="0 0 12 12"><circle cx="5.4" cy="6.3" r="3.9" fill="none" stroke="#ff7a00" stroke-width="0.9"/><line x1="1.5" y1="6.3" x2="9.3" y2="6.3" stroke="#ff7a00" stroke-width="0.9"/><line x1="5.4" y1="2.4" x2="5.4" y2="10.2" stroke="#ff7a00" stroke-width="0.9"/></svg>
<svg width="64" height="16" style="left:596px;top:0px;position:absolute" viewBox="0 0 64 16">
<g fill="none" stroke="#1c74c9" stroke-width="1" shape-rendering="crispEdges">
<rect x="1.5" y="1.5" width="13" height="13"/>
<rect x="17.5" y="1.5" width="13" height="13"/>
<rect x="33.5" y="1.5" width="13" height="13"/>
<rect x="49.5" y="1.5" width="13" height="13"/>
</g>
<g fill="#1c74c9">
<rect x="7" y="3" width="2" height="2.5"/><rect x="7" y="10" width="2" height="2.5"/>
<rect x="3" y="7" width="3" height="2"/><rect x="10" y="7" width="3" height="2"/><rect x="7" y="7" width="2" height="2"/>
</g>
<g stroke="#1c74c9" stroke-width="1.3" fill="#1c74c9">
<line x1="20.5" y1="3.5" x2="20.5" y2="12.5"/><line x1="19.5" y1="11.5" x2="29" y2="11.5"/>
<path d="M19,5 L20.5,3 L22,5 Z" stroke="none"/><path d="M27.5,10 L29.5,11.5 L27.5,13 Z" stroke="none"/>
<line x1="23.5" y1="4" x2="23.5" y2="9.5"/><path d="M27,4.3 L24,6.8 L27,9.3 Z" stroke="none"/>
<line x1="36.5" y1="3.5" x2="36.5" y2="12.5"/><line x1="35.5" y1="11.5" x2="45" y2="11.5"/>
<path d="M35,5 L36.5,3 L38,5 Z" stroke="none"/><path d="M43.5,10 L45.5,11.5 L43.5,13 Z" stroke="none"/>
<path d="M39.3,4 L44,7 L39.3,10 Z" stroke="none"/>
</g>
<g stroke="#1c74c9" stroke-width="1" fill="none" shape-rendering="crispEdges">
<rect x="51.5" y="3.5" width="3" height="9"/>
</g>
<g fill="#1c74c9"><rect x="53" y="7" width="5" height="2"/><path d="M57,4.8 L60.5,8 L57,11.2 Z"/></g>
</svg>
<div class="btm">240分 ▲</div>
</body></html>
